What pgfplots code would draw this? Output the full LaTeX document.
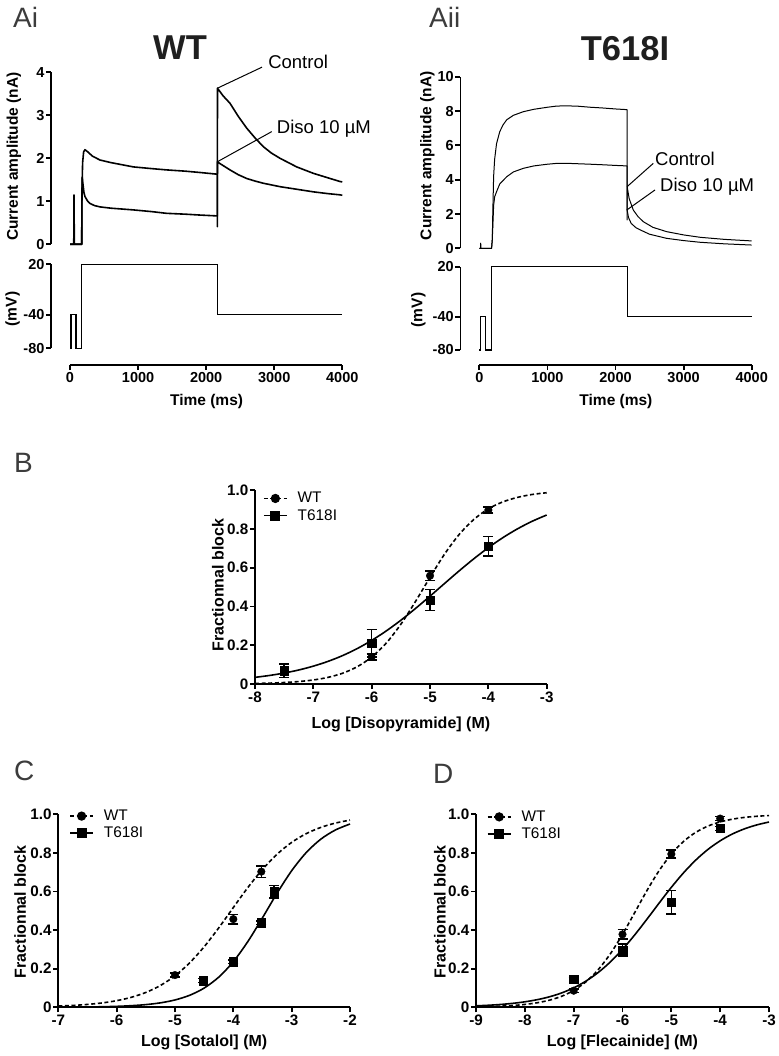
\documentclass[border=0pt]{standalone}
\usepackage{fontspec}
\setmainfont{Liberation Sans}
\usepackage{pgfplots}
\pgfplotsset{compat=1.18}
\newcommand{\fs}[1]{\fontsize{#1}{#1}\selectfont}
\definecolor{lettergray}{RGB}{60,60,60}
\pgfplotsset{
  gp/.style={
    scale only axis, anchor=south west, clip=false,
    axis x line*=bottom, axis y line*=left,
    axis line style={line width=1.8pt, black},
    tick style={line width=1.8pt, black},
    tick align=outside, major tick length=5pt,
    tick label style={font=\fs{14.5}\bfseries},
    yticklabel style={inner sep=1.5pt},
    xticklabel style={inner sep=2.5pt},
    label style={font=\fs{15.5}\bfseries},
    /pgf/number format/assume math mode=true,
  },
  dr/.style={
    gp, ymin=0, ymax=1,
    tick label style={font=\fs{15.2}\bfseries},
    label style={font=\fs{16}\bfseries},
    ytick={0,0.2,0.4,0.6,0.8,1}, yticklabels={0,0.2,0.4,0.6,0.8,1.0},
    legend cell align=left,
    legend image code/.code={\draw[mark repeat=2,mark phase=2,#1] plot coordinates {(0pt,0pt) (11.5pt,0pt) (23pt,0pt)};},
    legend style={draw=none, fill=none, anchor=west, inner sep=0pt,
      nodes={inner sep=1pt}, row sep=3pt, column sep=9pt},
  },
  fitdash/.style={black, line width=1.6pt, dash pattern=on 4pt off 2.6pt, smooth, forget plot},
  fitsolid/.style={black, line width=1.6pt, smooth, forget plot},
  ebars/.style={forget plot, only marks, black,
    error bars/.cd, y dir=both, y explicit,
    error bar style={line width=1.5pt, black, solid},
    error mark options={rotate=90, mark size=5pt, line width=1.5pt, black, solid}},
  wtmark/.style={mark=*, mark size=3.8pt, mark options={solid, fill=black}},
  mutmark/.style={mark=square*, mark size=4.2pt, mark options={solid, fill=black}},
  trace/.style={black, line width=1.6pt, line join=round},
  thintrace/.style={black, line width=1pt, line join=round},
  vtrace/.style={black, line width=1.1pt, line join=miter},
}
\newcommand{\lgfont}{\fs{15.4}}
\begin{document}
\begin{tikzpicture}
\path[use as bounding box] (0pt,0pt) rectangle (778pt,-1056pt);

% Panel letters and titles
\node[anchor=west, inner sep=0pt, font=\fs{28}, text=lettergray] at (13pt,-17pt) {Ai};
\node[anchor=west, inner sep=0pt, font=\fs{28}, text=lettergray] at (429pt,-17pt) {Aii};
\node[anchor=west, inner sep=0pt, font=\fs{28}, text=lettergray] at (14pt,-463pt) {B};
\node[anchor=west, inner sep=0pt, font=\fs{28}, text=lettergray] at (14pt,-771pt) {C};
\node[anchor=west, inner sep=0pt, font=\fs{28}, text=lettergray] at (433pt,-774pt) {D};
\node[inner sep=0pt, font=\fs{34.5}\bfseries, text=black!88] at (180pt,-47.5pt) {WT};
\node[inner sep=0pt, font=\fs{34.5}\bfseries, text=black!88] at (625pt,-48.5pt) {T618I};

% ---------- Ai current ----------
\begin{axis}[gp, at={(51.1pt,-244.3pt)}, width=291.2pt, height=172pt,
  xmin=-278, xmax=4000, ymin=0, ymax=4,
  axis x line=none, ytick={0,1,2,3,4}, yticklabels={0,1,2,3,4},
  ylabel={Current amplitude (nA)},
  ylabel style={at={(axis description cs:-0.128,0.51)}, anchor=center}]
\addplot[trace] coordinates {(0,0) (55,0) (59,1.15) (63,0) (172,0) (175,1.2) (185,1.9) (200,2.15) (220,2.2) (260,2.15) (330,2.05) (440,1.96) (600,1.9) (930,1.8) (1200,1.76) (1420,1.73) (1700,1.7) (1909,1.67) (2165,1.63) (2165,0.41) (2166,3.63) (2250,3.45) (2350,3.28) (2470,2.98) (2596,2.70) (2720,2.47) (2840,2.27) (2960,2.12) (3085,2.0) (3330,1.8) (3575,1.65) (3780,1.55) (3967,1.46) (4000,1.45)};
\addplot[trace] coordinates {(0,0) (172,0) (175,1.0) (180,1.55) (190,1.4) (205,1.2) (220,1.11) (260,1.0) (294,0.95) (360,0.9) (440,0.87) (600,0.84) (930,0.8) (1200,0.76) (1420,0.72) (1700,0.7) (1909,0.68) (2165,0.66) (2166,1.92) (2200,1.88) (2350,1.73) (2470,1.62) (2596,1.53) (2720,1.47) (2840,1.42) (3085,1.34) (3330,1.28) (3575,1.22) (3780,1.18) (3967,1.15) (4000,1.14)};
\draw[line width=1pt] (axis cs:2165,3.63) -- (axis cs:2821,4.12);
\node[anchor=west, inner sep=0pt, font=\fs{18.5}] at (axis cs:2910,4.245) {Control};
\draw[line width=1pt] (axis cs:2165,1.92) -- (axis cs:2963,2.62);
\node[anchor=west, inner sep=0pt, font=\fs{18.5}] at (axis cs:3037,2.69) {Diso 10 µM};
\end{axis}

% ---------- Ai voltage ----------
\begin{axis}[gp, at={(51.1pt,-365pt)}, width=291.2pt, height=100.7pt,
  xmin=-278, xmax=4000, ymin=-100, ymax=20,
  x axis line style={shorten <=18.9pt}, y axis line style={shorten <=16.8pt},
  xtick={0,1000,2000,3000,4000}, xticklabels={0,1000,2000,3000,4000},
  ytick={-80,-40,20}, yticklabels={-80,-40,20},
  xlabel={Time (ms)}, ylabel={(mV)},
  xlabel style={at={(axis description cs:0.534,-0.364)}, anchor=center},
  ylabel style={at={(axis description cs:-0.132,0.556)}, anchor=center}]
\addplot[vtrace] coordinates {(0,-80) (15,-80) (15,-40) (88,-40) (88,-80) (172,-80) (172,20) (2165,20) (2165,-40) (4000,-40)};
\end{axis}

% ---------- Aii current ----------
\begin{axis}[gp, at={(460.4pt,-248.3pt)}, width=291.3pt, height=171.6pt,
  xmin=-278, xmax=4000, ymin=0, ymax=10,
  axis x line=none, ytick={0,2,4,6,8,10}, yticklabels={0,2,4,6,8,10},
  ylabel={Current amplitude (nA)},
  ylabel style={at={(axis description cs:-0.113,0.54)}, anchor=center}]
\addplot[thintrace] coordinates {(0,0) (18,0) (20,0.3) (24,0) (180,0) (190,0.5) (200,2.5) (210,4.2) (225,5.2) (253,6.1) (300,6.8) (350,7.2) (402,7.49) (500,7.75) (646,7.96) (800,8.1) (1000,8.22) (1139,8.29) (1300,8.3) (1450,8.28) (1628,8.22) (1800,8.18) (2000,8.12) (2170,8.08) (2170,1.65) (2171,3.59) (2200,2.9) (2261,2.23) (2330,1.85) (2408,1.55) (2550,1.22) (2751,0.97) (3000,0.78) (3245,0.64) (3600,0.52) (4000,0.43)};
\addplot[thintrace] coordinates {(0,0) (180,0) (190,0.5) (200,1.5) (210,2.5) (225,3.0) (253,3.3) (300,3.75) (402,4.17) (500,4.45) (646,4.66) (800,4.8) (1000,4.9) (1140,4.95) (1300,4.95) (1628,4.9) (1800,4.87) (2000,4.83) (2170,4.8) (2171,2.23) (2190,1.8) (2230,1.45) (2300,1.2) (2364,1.07) (2500,0.82) (2751,0.58) (3000,0.45) (3245,0.35) (3600,0.26) (4000,0.19)};
\draw[line width=1pt] (axis cs:2169,3.59) -- (axis cs:2555,4.95);
\node[anchor=west, inner sep=0pt, font=\fs{18.5}] at (axis cs:2579,5.19) {Control};
\draw[line width=1pt] (axis cs:2165,2.23) -- (axis cs:2580,3.40);
\node[anchor=west, inner sep=0pt, font=\fs{18.5}] at (axis cs:2653,3.59) {Diso 10 µM};
\end{axis}

% ---------- Aii voltage ----------
\begin{axis}[gp, at={(460.4pt,-365pt)}, width=291.3pt, height=98.3pt,
  xmin=-278, xmax=4000, ymin=-98, ymax=20,
  x axis line style={shorten <=18.9pt}, y axis line style={shorten <=15pt},
  xtick={0,1000,2000,3000,4000}, xticklabels={0,1000,2000,3000,4000},
  ytick={-80,-40,20}, yticklabels={-80,-40,20},
  xlabel={Time (ms)}, ylabel={(mV)},
  xlabel style={at={(axis description cs:0.534,-0.373)}, anchor=center},
  ylabel style={at={(axis description cs:-0.144,0.56)}, anchor=center}]
\addplot[vtrace] coordinates {(0,-80) (20,-80) (20,-40) (94,-40) (94,-80) (182,-80) (182,20) (2179,20) (2179,-40) (4000,-40)};
\end{axis}

% ---------- B ----------
\begin{axis}[dr, at={(255pt,-684pt)}, width=291.7pt, height=194pt,
  xmin=-8, xmax=-3, xtick={-8,-7,-6,-5,-4,-3}, xticklabels={-8,-7,-6,-5,-4,-3},
  xlabel={Log [Disopyramide] (M)}, ylabel={Fractionnal block},
  xlabel style={at={(axis description cs:0.5,-0.206)}, anchor=center},
  ylabel style={at={(axis description cs:-0.127,0.51)}, anchor=center},
  legend style={at={(axis description cs:0.027,0.912)}}]
\addlegendimage{black, line width=1.6pt, dash pattern=on 4pt off 2.6pt, wtmark}
\addlegendentry{\lgfont WT}
\addlegendimage{black, line width=1.6pt, mutmark}
\addlegendentry{\lgfont T618I}
\addplot[fitdash] coordinates {(-8,0.0028) (-7.75,0.0046) (-7.5,0.0077) (-7.25,0.0127) (-7,0.0208) (-6.75,0.0341) (-6.5,0.0554) (-6.25,0.0887) (-6,0.139) (-5.75,0.211) (-5.5,0.308) (-5.25,0.425) (-5,0.550) (-4.75,0.670) (-4.5,0.771) (-4.25,0.848) (-4,0.903) (-3.75,0.939) (-3.5,0.962) (-3.25,0.977) (-3,0.986)};
\addplot[fitsolid] coordinates {(-8,0.0343) (-7.75,0.0441) (-7.5,0.0566) (-7.25,0.0723) (-7,0.0921) (-6.75,0.1165) (-6.5,0.1463) (-6.25,0.1823) (-6,0.2247) (-5.75,0.2736) (-5.5,0.3287) (-5.25,0.3891) (-5,0.4529) (-4.75,0.5184) (-4.5,0.5833) (-4.25,0.6453) (-4,0.7029) (-3.75,0.7547) (-3.5,0.7999) (-3.25,0.8387) (-3,0.8712)};
\addplot[mutmark, ebars] coordinates {(-7.5,0.069) +- (0,0.035) (-6,0.21) +- (0,0.07) (-5,0.433) +- (0,0.055) (-4,0.711) +- (0,0.05)};
\addplot[wtmark, ebars] coordinates {(-6,0.14) +- (0,0.015) (-5,0.558) +- (0,0.025) (-4,0.897) +- (0,0.015)};
\end{axis}

% ---------- C ----------
\begin{axis}[dr, at={(58.3pt,-1007.3pt)}, width=291.7pt, height=193pt,
  xmin=-7, xmax=-2, xtick={-7,-6,-5,-4,-3,-2}, xticklabels={-7,-6,-5,-4,-3,-2},
  xlabel={Log [Sotalol] (M)}, ylabel={Fractionnal block},
  xlabel style={at={(axis description cs:0.5,-0.183)}, anchor=center},
  ylabel style={at={(axis description cs:-0.131,0.495)}, anchor=center},
  legend style={at={(axis description cs:0.037,0.946)}}]
\addlegendimage{black, line width=1.6pt, dash pattern=on 4pt off 2.6pt, wtmark}
\addlegendentry{\lgfont WT}
\addlegendimage{black, line width=1.6pt, mutmark}
\addlegendentry{\lgfont T618I}
\addplot[fitdash] coordinates {(-7,0.0065) (-6.75,0.0098) (-6.5,0.0150) (-6.25,0.0227) (-6,0.0344) (-5.75,0.0517) (-5.5,0.0770) (-5.25,0.1131) (-5,0.1633) (-4.75,0.2300) (-4.5,0.3138) (-4.25,0.4115) (-4,0.5170) (-3.75,0.6210) (-3.5,0.7148) (-3.25,0.7932) (-3,0.8545) (-2.75,0.8999) (-2.5,0.9322) (-2.25,0.9546) (-2,0.9699)};
\addplot[fitsolid] coordinates {(-7,0.0007) (-6.75,0.0011) (-6.5,0.0018) (-6.25,0.0030) (-6,0.0050) (-5.75,0.0084) (-5.5,0.0140) (-5.25,0.0231) (-5,0.0381) (-4.75,0.0621) (-4.5,0.0997) (-4.25,0.1563) (-4,0.2365) (-3.75,0.3412) (-3.5,0.4640) (-3.25,0.5914) (-3,0.7077) (-2.75,0.8019) (-2.5,0.8713) (-2.25,0.9188) (-2,0.9498)};
\addplot[mutmark, ebars] coordinates {(-4.52,0.138) +- (0,0.01) (-4,0.236) +- (0,0.01) (-3.52,0.438) +- (0,0.01) (-3.3,0.599) +- (0,0.033)};
\addplot[wtmark, ebars] coordinates {(-5,0.167) +- (0,0.01) (-4,0.457) +- (0,0.025) (-3.52,0.703) +- (0,0.03)};
\end{axis}

% ---------- D ----------
\begin{axis}[dr, at={(476pt,-1007.3pt)}, width=293pt, height=193pt,
  xmin=-9, xmax=-3, xtick={-9,-8,-7,-6,-5,-4,-3}, xticklabels={-9,-8,-7,-6,-5,-4,-3},
  xlabel={Log [Flecainide] (M)}, ylabel={Fractionnal block},
  xlabel style={at={(axis description cs:0.5,-0.183)}, anchor=center},
  ylabel style={at={(axis description cs:-0.123,0.495)}, anchor=center},
  legend style={at={(axis description cs:0.0365,0.942)}}]
\addlegendimage{black, line width=1.6pt, dash pattern=on 4pt off 2.6pt, wtmark}
\addlegendentry{\lgfont WT}
\addlegendimage{black, line width=1.6pt, mutmark}
\addlegendentry{\lgfont T618I}
\addplot[fitdash] coordinates {(-9,0.0024) (-8.75,0.0038) (-8.5,0.0060) (-8.25,0.0094) (-8,0.0149) (-7.75,0.0234) (-7.5,0.0367) (-7.25,0.0569) (-7,0.0875) (-6.75,0.1320) (-6.5,0.1944) (-6.25,0.2768) (-6,0.3779) (-5.75,0.4908) (-5.5,0.6047) (-5.25,0.7082) (-5,0.7939) (-4.75,0.8594) (-4.5,0.9065) (-4.25,0.9390) (-4,0.9606) (-3.75,0.9748) (-3.5,0.9840) (-3.25,0.9898) (-3,0.9936)};
\addplot[fitsolid] coordinates {(-9,0.0076) (-8.75,0.0106) (-8.5,0.0147) (-8.25,0.0205) (-8,0.0285) (-7.75,0.0394) (-7.5,0.0542) (-7.25,0.0742) (-7,0.1008) (-6.75,0.1356) (-6.5,0.1799) (-6.25,0.2348) (-6,0.3003) (-5.75,0.3752) (-5.5,0.4564) (-5.25,0.5402) (-5,0.6217) (-4.75,0.6969) (-4.5,0.7628) (-4.25,0.8181) (-4,0.8628) (-3.75,0.8980) (-3.5,0.9249) (-3.25,0.9451) (-3,0.9601)};
\addplot[mutmark, ebars] coordinates {(-7,0.145) +- (0,0.01) (-6,0.297) +- (0,0.03) (-5,0.544) +- (0,0.06) (-4,0.927) +- (0,0.01)};
\addplot[wtmark, ebars] coordinates {(-7,0.086) +- (0,0.01) (-6,0.378) +- (0,0.025) (-5,0.794) +- (0,0.02) (-4,0.978) +- (0,0.01)};
\end{axis}
\end{tikzpicture}
\end{document}
